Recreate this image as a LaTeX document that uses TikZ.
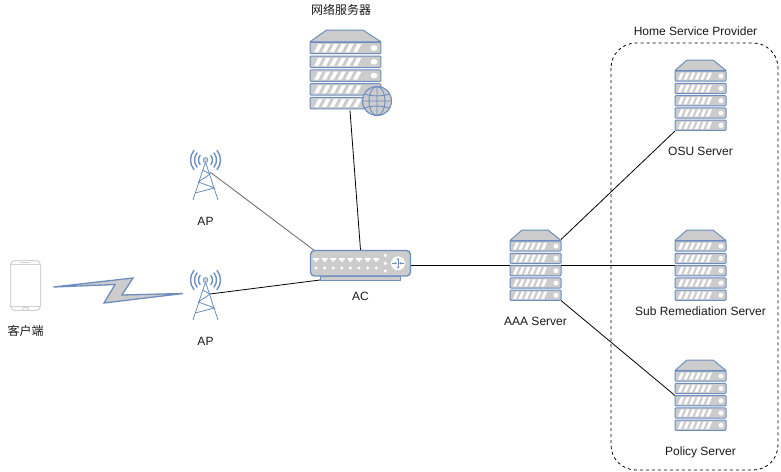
\documentclass[tikz,border=0pt]{standalone}
\usepackage{fontspec}
\setmainfont{Liberation Sans}
\newfontfamily\cjkfont{Noto Sans CJK SC}
\usetikzlibrary{arrows.meta}
\definecolor{iconblue}{HTML}{6C8EBF}
\definecolor{icongrey}{HTML}{CCCCCC}
\definecolor{phonegrey}{HTML}{D2D2D2}
\tikzset{
  label text/.style={font=\fontsize{12}{14}\selectfont,inner sep=0pt,text=black!90},
  iconbox/.style={inner sep=0pt,outer sep=0pt,minimum width=#1},
  link/.style={draw=black,line width=0.8pt},
  soft link/.style={draw=black!60,line width=0.8pt},
  icon/.style={draw=iconblue,fill=icongrey,line width=1pt,line join=round},
  mast/.style={draw=iconblue,line width=0.8pt},
  wave/.style={draw=iconblue,line width=1.4pt,line cap=round},
}
% \serverIcon{x}{y}{xscale}{yscale}
\newcommand{\serverIcon}[4]{%
  \begin{scope}[shift={(#1,#2)},xscale=#3,yscale=#4]
    \draw[icon] (0,10.5) -- (12,0) -- (38,0) -- (51,10.5) -- cycle;
    \foreach \row in {0,...,4}{
      \pgfmathsetmacro{\ytop}{11+12.3*\row}
      \pgfmathsetmacro{\ybot}{\ytop+10.2}
      \draw[icon,rounded corners=1] (0,\ytop) rectangle (51,\ybot);
      \foreach \st in {0,...,5}{
        \pgfmathsetmacro{\xa}{3+5.6*\st}
        \fill[white] (\xa,\ybot-1.5) -- (\xa+3,\ybot-1.5) -- (\xa+6,\ytop+1.5) -- (\xa+3,\ytop+1.5) -- cycle;
      }
      \fill[white] (46,\ytop+5.1) circle[radius=2.5];
    }
  \end{scope}}
% \apIcon{x}{y}: x,y = centre of the top ball
\newcommand{\apIcon}[2]{%
  \begin{scope}[shift={(#1,#2)}]
    \foreach \r in {7,11,15}{
      \draw[wave] ({-\r*0.766},{\r*0.643}) arc[start angle=140,end angle=220,radius=\r];
      \draw[wave] ({\r*0.766},{\r*0.643}) arc[start angle=40,end angle=-40,radius=\r];
    }
    \draw[mast] (-12.5,40) -- (0,2) -- (12.5,40);
    \draw[mast] (-3.3,10) -- (4.6,14) -- (-7.2,22) -- (9,28) -- (-10.4,33);
    \draw[draw=iconblue,fill=icongrey,line width=0.6pt] (0,0) circle[radius=2.5];
  \end{scope}}
\begin{document}
\begin{tikzpicture}[x=1pt,y=-1pt]
\useasboundingbox (0,0) rectangle (781,471);
% named boxes
\node[iconbox=71pt,minimum height=80pt] (web) at (345.5,70.5) {};
\node[iconbox=31pt,minimum height=50pt] (ap1) at (205.5,175) {};
\node[iconbox=31pt,minimum height=50pt] (ap2) at (205.5,295) {};
\node[iconbox=101pt,minimum height=30pt] (ac) at (360.5,265) {};
\node[iconbox=51pt,minimum height=71pt] (aaa) at (535.5,265) {};
\node[iconbox=51pt,minimum height=71pt] (osu) at (700.5,95.5) {};
\node[iconbox=51pt,minimum height=71pt] (sub) at (700.5,265) {};
\node[iconbox=51pt,minimum height=71pt] (policy) at (700.5,395.5) {};
% group
\draw[black,line width=0.8pt,dash pattern=on 3pt off 3pt,rounded corners=25] (611,43) rectangle (778,470);
% connectors
\draw[link] ([xshift=4.5pt]web.south) -- (ac.north);
\draw[soft link] ([xshift=4.5pt,yshift=3pt]ap1.center) -- ([xshift=5pt,yshift=-1pt]ac.north west);
\draw[link] ([xshift=4.5pt,yshift=1pt]ap2.center) -- ([xshift=10pt]ac.south west);
\draw[link] (ac.east) -- (aaa.west);
\draw[link] (aaa.45) -- (osu.south west);
\draw[link] (aaa.east) -- (sub.west);
\draw[link] (aaa.south east) -- (policy.west);
% web server
\serverIcon{310}{30}{1.39}{1.12}
\begin{scope}[shift={(377,101)}]
  \draw[icon,line width=1.1pt] (0,0) circle[radius=14.5];
  \draw[iconblue,line width=0.9pt] (0,-14.5) -- (0,14.5)
    (-14.5,0) -- (14.5,0)
    (0,0) ellipse[x radius=8,y radius=14.5]
    (-12.5,-7) .. controls (-5,-4.5) and (5,-4.5) .. (12.5,-7)
    (-12.5,7) .. controls (-5,4.5) and (5,4.5) .. (12.5,7);
\end{scope}
% servers
\serverIcon{510}{230}{1}{1}
\serverIcon{675}{60}{1}{1}
\serverIcon{675}{230}{1}{1}
\serverIcon{675}{360}{1}{1}
% access points
\apIcon{205.5}{160}
\apIcon{205.5}{280}
% AC
\draw[icon] (320,276) rectangle (400,280);
\draw[icon,line width=1.3pt,rounded corners=4] (310.5,250.5) rectangle (410.5,276);
\foreach \i in {0,...,7}{
  \pgfmathsetmacro{\px}{316+8.6*\i}
  \fill[white] (\px-2.8,258) -- (\px+2.8,258) -- (\px+2.8,260) -- (\px+1.2,260) -- (\px+1.2,261.5) -- (\px-1.2,261.5) -- (\px-1.2,260) -- (\px-2.8,260) -- cycle;
  \fill[white] (\px,268) circle[radius=1.7];
}
\foreach \yy in {255.5,263.3,271}{\fill[white] (385.3,\yy) circle[radius=1.8];}
\fill[white] (398,263.3) circle[radius=7];
\begin{scope}[iconblue,line width=0.7pt,-{Stealth[length=2pt,width=2.6pt]}]
  \draw (392,263.3) -- (396.8,263.3);
  \draw (404,263.3) -- (399.2,263.3);
\end{scope}
\draw[iconblue,line width=0.7pt,{Stealth[length=2pt,width=2.6pt]}-{Stealth[length=2pt,width=2.6pt]}] (398,258) -- (398,268.6);
% phone
\draw[phonegrey,line width=1pt,fill=white,rounded corners=4.5] (10.5,260.5) rectangle (40.5,310.5);
\draw[phonegrey,line width=0.9pt] (11,264.5) -- (40,264.5) (11,306.5) -- (40,306.5);
\draw[phonegrey,line width=1.2pt] (20,262.4) -- (30,262.4);
\draw[phonegrey,line width=0.8pt,rounded corners=1] (22,307.6) rectangle (29,310);
% lightning
\draw[icon,line width=1.3pt,line join=miter,miter limit=20] (53.5,287) -- (133,278) -- (122,295) -- (183,293.5) -- (104,303) -- (115,284.5) -- cycle;
% labels
\node[label text] (lweb) at (341,10) {\cjkfont 网络服务器};
\node[label text] (lap1) at (205.5,221.5) {AP};
\node[label text] (lap2) at (205.5,341.5) {AP};
\node[label text] (lcli) at (25.5,330.5) {\cjkfont 客户端};
\node[label text] (lac) at (360.5,296.5) {AC};
\node[label text] (laaa) at (535.5,321.5) {AAA Server};
\node[label text] (losu) at (700.5,151.5) {OSU Server};
\node[label text] (lsub) at (700.5,311.5) {Sub Remediation Server};
\node[label text] (lpol) at (700.5,452) {Policy Server};
\node[label text] (lhsp) at (695.5,31.5) {Home Service Provider};
\end{tikzpicture}
\end{document}
